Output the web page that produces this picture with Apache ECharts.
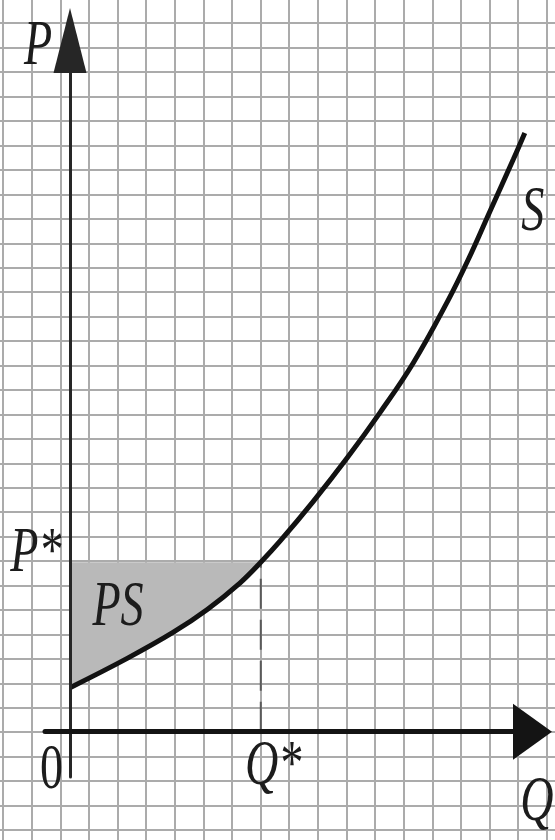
<!DOCTYPE html>
<html>
<head>
<meta charset="utf-8">
<script src="https://cdn.jsdelivr.net/npm/echarts@6/dist/echarts.min.js"></script>
<style>
  html, body { margin: 0; padding: 0; background: #ffffff; }
  #chart { width: 555px; height: 840px; }
</style>
</head>
<body>
<div id="chart"></div>
<script>
// Supply curve S: quantity Q and price P (one unit = one paper cell)
const supplyQ = [0, 2.0, 3.6, 4.8, 5.95, 6.67, 7.35, 8.5, 9.7, 10.85, 12.0, 13.2, 13.9, 14.7, 15.5, 15.9];
const supplyP = [1.8, 3.0, 4.06, 5.0, 6.09, 6.93, 7.8, 9.41, 11.21, 13.07, 15.08, 17.6, 19.25, 21.33, 23.41, 24.49];

// Market equilibrium
const eqQ = 6.67;
const eqP = 6.93;

// Text annotations
const labelTexts = ['P', 'P*', 'PS', '0', 'Q*', 'Q', 'S'];

// Where each annotation sits, in Q/P units
const labelLayout = [
  { at: [-1.12, 28.0], italic: true },
  { at: [-1.19, 7.27], italic: true },
  { at: [1.68, 5.06], italic: true },
  { at: [-0.65, -1.61], italic: false },
  { at: [7.1, -1.45], italic: true },
  { at: [16.32, -2.93], italic: true },
  { at: [16.18, 21.2], italic: true }
];

const supplyData = supplyQ.map((q, i) => [q, supplyP[i]]);

// Producer surplus region: between P* and the supply curve for Q in [0, Q*]
const surplusEdge = supplyData.filter(d => d[0] <= eqQ);
const surplusPolygon = surplusEdge.concat([[eqQ, eqP], [0, eqP]]);

const chart = echarts.init(document.getElementById('chart'), null, { renderer: 'canvas' });

// squared paper ruling
const paperLine = {
  show: true, showMinLine: true, showMaxLine: false,
  lineStyle: { color: '#ababab', width: 2 }
};
const hiddenAxis = {
  axisLine: { show: false }, axisTick: { show: false },
  axisLabel: { show: false }, splitLine: { show: false }
};

chart.setOption({
  backgroundColor: '#ffffff',
  animation: false,
  grid: [
    // economics axes
    { left: 45, right: 22.5, top: 40.5, bottom: 63, outerBoundsMode: 'none' },
    // vertical paper rules
    { left: 3.1, right: 0, top: 0, bottom: 0, outerBoundsMode: 'none' },
    // horizontal paper rules
    { left: 0, right: 0, top: 0, bottom: 10, outerBoundsMode: 'none' }
  ],
  xAxis: [
    {
      type: 'value', gridIndex: 0, min: -0.874, max: 16.17,
      splitLine: { show: false }, axisTick: { show: false }, axisLabel: { show: false },
      axisLine: {
        show: true, onZero: true,
        symbol: ['none', 'triangle'], symbolSize: [56, 39],
        lineStyle: { color: '#141414', width: 5 }
      },
      z: 10
    },
    {
      type: 'value', gridIndex: 1, min: 0, max: 19.29, interval: 1,
      axisLine: { show: false }, axisTick: { show: false }, axisLabel: { show: false },
      splitLine: paperLine, z: 0
    },
    Object.assign({ type: 'value', gridIndex: 2, min: 0, max: 1 }, hiddenAxis)
  ],
  yAxis: [
    {
      type: 'value', gridIndex: 0, min: -1.853, max: 28.27,
      splitLine: { show: false }, axisTick: { show: false }, axisLabel: { show: false },
      axisLine: {
        show: true, onZero: true,
        symbol: ['none', 'triangle'], symbolSize: [33, 65],
        lineStyle: { color: '#262626', width: 3 }
      },
      z: 10
    },
    Object.assign({ type: 'value', gridIndex: 1, min: 0, max: 1 }, hiddenAxis),
    {
      type: 'value', gridIndex: 2, min: 0, max: 33.95, interval: 1,
      axisLine: { show: false }, axisTick: { show: false }, axisLabel: { show: false },
      splitLine: paperLine, z: 0
    }
  ],
  series: [
    {
      name: 'PS',
      type: 'custom',
      xAxisIndex: 0, yAxisIndex: 0,
      z: 3,
      data: [0],
      renderItem: function (params, api) {
        const pts = surplusPolygon.map(d => api.coord(d));
        return {
          type: 'polygon',
          shape: { points: pts },
          style: { fill: '#b9b9b9', stroke: null }
        };
      }
    },
    {
      name: 'Q* guide',
      type: 'line',
      xAxisIndex: 0, yAxisIndex: 0,
      z: 4,
      symbol: 'none',
      data: [[eqQ, 0], [eqQ, eqP]],
      lineStyle: { color: '#5a5a5a', width: 2, type: [30, 11] }
    },
    {
      name: 'S',
      type: 'line',
      xAxisIndex: 0, yAxisIndex: 0,
      z: 5,
      symbol: 'none',
      smooth: 0.4,
      data: supplyData,
      lineStyle: { color: '#121212', width: 5, cap: 'butt' }
    },
    {
      name: 'labels',
      type: 'custom',
      xAxisIndex: 0, yAxisIndex: 0,
      z: 20,
      clip: false,
      data: labelLayout.map(l => l.at),
      renderItem: function (params, api) {
        const pt = api.coord([api.value(0), api.value(1)]);
        const cfg = labelLayout[params.dataIndex];
        return {
          type: 'text',
          x: pt[0],
          y: pt[1],
          scaleX: 0.72,
          style: {
            text: labelTexts[params.dataIndex],
            x: 0, y: 0,
            fontFamily: 'Liberation Serif',
            fontSize: 64,
            fontStyle: cfg.italic ? 'italic' : 'normal',
            fill: '#1c1c1c',
            align: 'center',
            verticalAlign: 'middle'
          }
        };
      }
    }
  ]
});
</script>
</body>
</html>
